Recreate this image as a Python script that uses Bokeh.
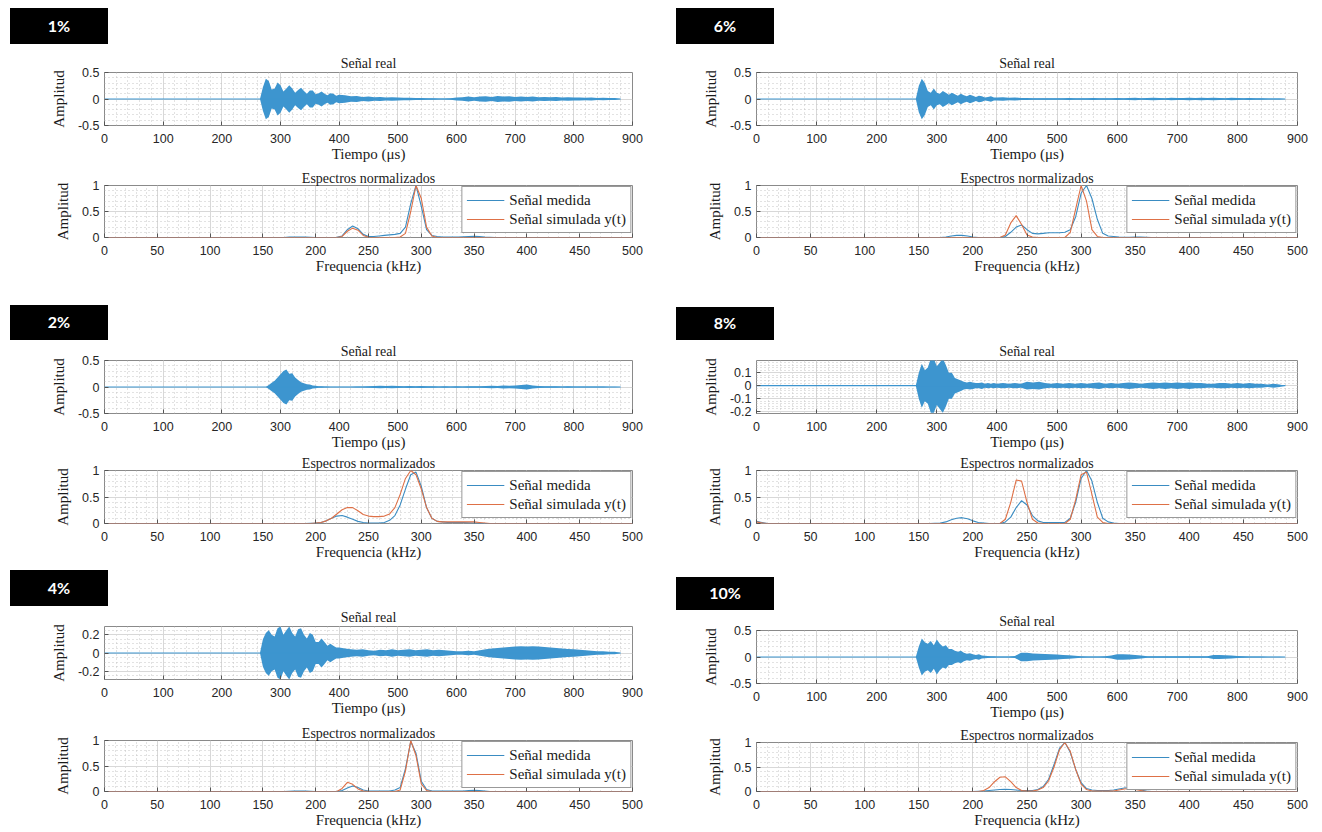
from bokeh.plotting import figure
from bokeh.models import Range1d, FixedTicker, Div
from bokeh.layouts import column, row
from bokeh.embed import file_html
from bokeh.resources import INLINE

# ---------------- data ----------------
PANEL_LABELS = ["1%", "2%", "4%", "6%", "8%", "10%"]

TIME_US = [0, 262,
           265, 270, 275, 280, 285, 290, 295, 300, 305, 310, 315, 320, 325, 330,
           335, 340, 345, 350, 355, 360, 365, 370, 375, 380, 385, 390, 395, 400,
           410, 420, 430, 440, 450, 460, 470, 480, 490, 500, 510, 520, 530, 540,
           550, 560, 570, 580, 590, 600, 610, 620, 630, 640, 650, 660, 670, 680,
           690, 700, 710, 720, 730, 740, 750, 760, 770, 780, 790, 800, 810, 820,
           830, 840, 850, 860, 870, 880]

ENV_1 = [0, 0,
         0, 0.22, 0.38, 0.34, 0.18, 0.2, 0.31, 0.26, 0.14, 0.2, 0.26, 0.2, 0.12, 0.17,
         0.21, 0.15, 0.1, 0.16, 0.16, 0.09, 0.11, 0.14, 0.1, 0.07, 0.11, 0.1, 0.06, 0.08,
         0.07, 0.05, 0.055, 0.04, 0.045, 0.035, 0.04, 0.03, 0.035, 0.03, 0.025, 0.025, 0.02, 0.02,
         0.015, 0.012, 0.01, 0.01, 0.015, 0.03, 0.035, 0.045, 0.035, 0.045, 0.05, 0.04, 0.055, 0.045,
         0.05, 0.04, 0.045, 0.04, 0.045, 0.035, 0.04, 0.035, 0.04, 0.03, 0.035, 0.03, 0.03, 0.025,
         0.03, 0.02, 0.025, 0.02, 0.02, 0]
ENV_2 = [0, 0,
         0, 0, 0, 0.04, 0.08, 0.12, 0.18, 0.24, 0.3, 0.33, 0.25, 0.26, 0.18, 0.13,
         0.09, 0.07, 0.05, 0.045, 0.03, 0.025, 0.015, 0.012, 0.01, 0.008, 0.006, 0.005, 0.005, 0.005,
         0.005, 0.005, 0.008, 0.01, 0.012, 0.02, 0.025, 0.02, 0.025, 0.02, 0.015, 0.02, 0.015, 0.018,
         0.012, 0.015, 0.01, 0.012, 0.01, 0.012, 0.01, 0.015, 0.012, 0.015, 0.02, 0.025, 0.02, 0.03,
         0.025, 0.03, 0.04, 0.045, 0.03, 0.02, 0.015, 0.012, 0.015, 0.01, 0.012, 0.01, 0.01, 0.008,
         0.01, 0.008, 0.008, 0.006, 0.006, 0]
ENV_4 = [0, 0,
         0, 0.15, 0.22, 0.25, 0.2, 0.18, 0.27, 0.29, 0.2, 0.25, 0.29, 0.22, 0.18, 0.26,
         0.27, 0.2, 0.16, 0.22, 0.2, 0.12, 0.12, 0.16, 0.12, 0.08, 0.1, 0.08, 0.06, 0.06,
         0.05, 0.04, 0.035, 0.04, 0.03, 0.025, 0.035, 0.03, 0.04, 0.03, 0.035, 0.04, 0.03, 0.035,
         0.04, 0.03, 0.035, 0.03, 0.025, 0.02, 0.02, 0.025, 0.02, 0.03, 0.04, 0.05, 0.055, 0.06,
         0.065, 0.07, 0.075, 0.07, 0.075, 0.07, 0.065, 0.06, 0.055, 0.05, 0.045, 0.04, 0.035, 0.03,
         0.025, 0.02, 0.02, 0.015, 0.015, 0]
ENV_6 = [0, 0,
         0, 0.25, 0.38, 0.3, 0.15, 0.12, 0.2, 0.12, 0.1, 0.15, 0.12, 0.08, 0.12, 0.09,
         0.06, 0.1, 0.07, 0.05, 0.08, 0.06, 0.04, 0.06, 0.05, 0.03, 0.04, 0.05, 0.03, 0.03,
         0.035, 0.025, 0.03, 0.02, 0.02, 0.015, 0.015, 0.012, 0.015, 0.012, 0.015, 0.02, 0.015, 0.012,
         0.015, 0.02, 0.015, 0.012, 0.015, 0.02, 0.015, 0.02, 0.025, 0.015, 0.02, 0.025, 0.02, 0.015,
         0.025, 0.02, 0.02, 0.025, 0.02, 0.025, 0.02, 0.025, 0.02, 0.015, 0.025, 0.02, 0.015, 0.02,
         0.015, 0.015, 0.01, 0.01, 0.01, 0]
ENV_8 = [0, 0,
         0, 0.1, 0.17, 0.12, 0.14, 0.21, 0.21, 0.15, 0.18, 0.21, 0.16, 0.1, 0.1, 0.06,
         0.05, 0.04, 0.03, 0.025, 0.03, 0.025, 0.02, 0.02, 0.025, 0.015, 0.02, 0.015, 0.02, 0.015,
         0.02, 0.015, 0.02, 0.015, 0.03, 0.025, 0.03, 0.02, 0.015, 0.02, 0.015, 0.02, 0.015, 0.02,
         0.015, 0.02, 0.025, 0.015, 0.02, 0.015, 0.02, 0.025, 0.02, 0.015, 0.02, 0.025, 0.02, 0.025,
         0.02, 0.025, 0.02, 0.025, 0.02, 0.02, 0.015, 0.015, 0.02, 0.02, 0.015, 0.02, 0.015, 0.02,
         0.015, 0.015, 0.01, 0.015, 0.01, 0]
ENV_10 = [0, 0,
          0, 0.2, 0.35, 0.28, 0.25, 0.3, 0.22, 0.33, 0.25, 0.2, 0.22, 0.15, 0.15, 0.12,
          0.1, 0.12, 0.08, 0.06, 0.07, 0.05, 0.04, 0.05, 0.03, 0.025, 0.02, 0.015, 0.012, 0.01,
          0.01, 0.01, 0.02, 0.08, 0.08, 0.065, 0.06, 0.055, 0.05, 0.045, 0.04, 0.035, 0.025, 0.012,
          0.01, 0.01, 0.01, 0.012, 0.03, 0.05, 0.05, 0.045, 0.04, 0.03, 0.015, 0.015, 0.012, 0.015,
          0.015, 0.012, 0.012, 0.015, 0.015, 0.012, 0.015, 0.04, 0.04, 0.035, 0.03, 0.02, 0.015, 0.01,
          0.008, 0.008, 0.006, 0.006, 0.005, 0]

FREQ_KHZ = [0, 5, 10, 150, 160,
            170, 175, 180, 185, 190,
            195, 200, 205, 210, 215,
            220, 225, 230, 235, 240,
            245, 250, 255, 260, 265,
            270, 275, 280, 285, 290,
            295, 300, 305, 310, 315,
            320, 325, 330, 335, 340,
            345, 350, 355, 360, 365,
            370, 380, 400, 450, 500]

MEAS_1 = [0, 0, 0, 0, 0,
          0, 0.01, 0.01, 0.01, 0.01,
          0.005, 0, 0, 0, 0,
          0.005, 0.03, 0.15, 0.22, 0.17,
          0.06, 0.02, 0.02, 0.03, 0.04,
          0.05, 0.06, 0.08, 0.2, 0.65,
          1.0, 0.6, 0.15, 0.04, 0.02,
          0.01, 0.01, 0.01, 0.01, 0.015,
          0.02, 0.025, 0.02, 0.01, 0.005,
          0, 0, 0, 0, 0]
SIM_1 = [0, 0, 0, 0, 0,
         0, 0, 0, 0, 0,
         0, 0, 0, 0, 0,
         0, 0.02, 0.12, 0.18, 0.14,
         0.04, 0.005, 0, 0, 0,
         0, 0, 0.01, 0.08, 0.5,
         1.0, 0.75, 0.2, 0.03, 0,
         0, 0, 0, 0, 0,
         0, 0, 0, 0, 0,
         0, 0, 0, 0, 0]
MEAS_2 = [0, 0, 0, 0, 0,
          0, 0, 0, 0, 0,
          0.005, 0.01, 0.02, 0.05, 0.1,
          0.14, 0.15, 0.12, 0.08, 0.04,
          0.02, 0.01, 0.01, 0.01, 0.02,
          0.06, 0.15, 0.35, 0.65, 0.92,
          0.97, 0.7, 0.3, 0.1, 0.04,
          0.03, 0.02, 0.02, 0.02, 0.02,
          0.015, 0.01, 0.005, 0, 0,
          0, 0, 0, 0, 0]
SIM_2 = [0, 0, 0, 0, 0,
         0, 0, 0, 0, 0,
         0, 0.01, 0.02, 0.05, 0.1,
         0.18, 0.26, 0.3, 0.3, 0.24,
         0.17, 0.14, 0.13, 0.13, 0.14,
         0.18, 0.3, 0.55, 0.85, 1.0,
         0.92, 0.65, 0.3, 0.1, 0.04,
         0.03, 0.03, 0.03, 0.03, 0.03,
         0.03, 0.03, 0.02, 0.01, 0,
         0, 0, 0, 0, 0]
MEAS_4 = [0, 0, 0, 0, 0,
          0, 0.005, 0.01, 0.01, 0.01,
          0.005, 0, 0, 0, 0,
          0, 0.02, 0.07, 0.11, 0.08,
          0.03, 0.01, 0.01, 0.01, 0.01,
          0.01, 0.03, 0.08, 0.45, 0.98,
          0.75, 0.2, 0.04, 0.01, 0.01,
          0.01, 0.01, 0.01, 0.01, 0.01,
          0.02, 0.025, 0.02, 0.01, 0,
          0, 0, 0, 0, 0]
SIM_4 = [0, 0, 0, 0, 0,
         0, 0, 0, 0, 0,
         0, 0, 0, 0, 0,
         0, 0.06, 0.18, 0.14, 0.05,
         0.01, 0, 0, 0, 0,
         0, 0, 0.03, 0.4, 1.0,
         0.7, 0.15, 0.02, 0, 0,
         0, 0, 0, 0, 0,
         0, 0, 0, 0, 0,
         0, 0, 0, 0, 0]
MEAS_6 = [0, 0, 0, 0, 0,
          0, 0.01, 0.03, 0.04, 0.04,
          0.03, 0.01, 0, 0, 0,
          0, 0, 0.02, 0.1, 0.2,
          0.24, 0.15, 0.08, 0.07, 0.08,
          0.09, 0.09, 0.09, 0.1, 0.15,
          0.4, 0.85, 1.0, 0.75, 0.35,
          0.08, 0.03, 0.02, 0.01, 0.005,
          0.005, 0.01, 0.01, 0.005, 0,
          0, 0, 0, 0, 0]
SIM_6 = [0, 0, 0, 0, 0,
         0, 0, 0, 0, 0,
         0, 0, 0, 0, 0,
         0, 0, 0.05, 0.28, 0.42,
         0.25, 0.05, 0.01, 0, 0,
         0, 0, 0, 0, 0.1,
         0.55, 1.0, 0.7, 0.15, 0.02,
         0, 0, 0, 0, 0,
         0, 0, 0, 0, 0,
         0, 0, 0, 0, 0]
MEAS_8 = [0.04, 0.02, 0, 0, 0,
          0.01, 0.03, 0.07, 0.1, 0.11,
          0.09, 0.05, 0.02, 0.01, 0,
          0, 0, 0.03, 0.12, 0.3,
          0.43, 0.35, 0.15, 0.05, 0.02,
          0.02, 0.02, 0.02, 0.02, 0.1,
          0.4, 0.85, 1.0, 0.8, 0.4,
          0.1, 0.03, 0.01, 0, 0,
          0, 0, 0, 0, 0,
          0, 0, 0, 0, 0]
SIM_8 = [0.03, 0.01, 0, 0, 0,
         0, 0, 0, 0, 0,
         0, 0, 0, 0, 0,
         0, 0, 0.08, 0.4, 0.82,
         0.8, 0.4, 0.08, 0.01, 0,
         0, 0, 0, 0, 0.08,
         0.45, 0.92, 0.97, 0.55, 0.12,
         0.02, 0, 0, 0, 0,
         0, 0, 0, 0, 0,
         0, 0, 0, 0, 0]
MEAS_10 = [0, 0, 0, 0, 0,
           0, 0, 0, 0, 0,
           0, 0, 0.005, 0.01, 0.02,
           0.03, 0.04, 0.045, 0.04, 0.03,
           0.02, 0.02, 0.02, 0.04, 0.1,
           0.25, 0.55, 0.88, 1.0, 0.8,
           0.45, 0.18, 0.06, 0.03, 0.02,
           0.02, 0.02, 0.03, 0.05, 0.07,
           0.08, 0.06, 0.03, 0.01, 0,
           0, 0, 0, 0, 0]
SIM_10 = [0, 0, 0, 0, 0,
          0, 0, 0, 0, 0,
          0, 0, 0, 0.02, 0.08,
          0.2, 0.29, 0.3, 0.2, 0.08,
          0.02, 0.01, 0.01, 0.03, 0.08,
          0.22, 0.5, 0.85, 1.0, 0.82,
          0.45, 0.15, 0.04, 0.01, 0.01,
          0.01, 0.01, 0.01, 0.03, 0.05,
          0.06, 0.04, 0.02, 0, 0,
          0, 0, 0, 0, 0]

# axis ticks / limits
TIME_TICKS = [0, 100, 200, 300, 400, 500, 600, 700, 800, 900]
FREQ_TICKS = [0, 50, 100, 150, 200, 250, 300, 350, 400, 450, 500]
AMP_TICKS_05 = [-0.5, 0, 0.5]
AMP_LABELS_05 = ["-0.5", "0", "0.5"]
AMP_TICKS_02 = [-0.2, 0, 0.2]
AMP_LABELS_02 = ["-0.2", "0", "0.2"]
AMP_TICKS_01 = [-0.2, -0.1, 0, 0.1]
AMP_LABELS_01 = ["-0.2", "-0.1", "0", "0.1"]
SPEC_TICKS = [0, 0.5, 1]
SPEC_LABELS = ["0", "0.5", "1"]
YLIM_05 = (-0.5, 0.5)
YLIM_02 = (-0.29, 0.29)
YLIM_01 = (-0.215, 0.195)

# ---------------- style ----------------
SERIF = "Liberation Serif"
SANS = "Liberation Sans"
WAVE = "#3d95cf"
MEAS_C = "#3a8cc2"
SIM_C = "#de7046"
FRAME_C = "#8a8a8a"


def style(p, xticks, xminor_step, yticks, ylabels, yminor_step, xlabel):
    xminor = [xticks[0] + i * xminor_step for i in range(int(round((xticks[-1] - xticks[0]) / xminor_step)) + 1)]
    ylo, yhi = p.y_range.start, p.y_range.end
    n0 = int(ylo / yminor_step) - 1
    n1 = int(yhi / yminor_step) + 1
    yminor = [round(k * yminor_step, 4) for k in range(n0, n1 + 1)]
    p.xaxis.ticker = FixedTicker(ticks=xticks, minor_ticks=xminor)
    p.yaxis.ticker = FixedTicker(ticks=yticks, minor_ticks=yminor)
    p.yaxis.major_label_overrides = {t: l for t, l in zip(yticks, ylabels)}
    for ax in (p.xaxis[0], p.yaxis[0]):
        ax.axis_line_color = None
        ax.major_tick_in = 4
        ax.major_tick_out = 0
        ax.major_tick_line_color = "#555555"
        ax.minor_tick_in = 0
        ax.minor_tick_out = 0
        ax.major_label_text_font = SANS
        ax.major_label_text_font_size = "12.5px"
        ax.major_label_text_color = "#262626"
        ax.axis_label_text_font = SERIF
        ax.axis_label_text_font_size = "15px"
        ax.axis_label_text_font_style = "normal"
        ax.axis_label_text_color = "#1a1a1a"
    p.xaxis.axis_label = xlabel
    p.yaxis.axis_label = "Amplitud"
    p.xaxis.major_label_standoff = 8
    p.xaxis.axis_label_standoff = 0
    p.yaxis.major_label_standoff = 5
    p.yaxis.axis_label_standoff = 8
    for g in (p.xgrid[0], p.ygrid[0]):
        g.grid_line_color = "#d8d8d8"
        g.grid_line_width = 1
        g.minor_grid_line_color = "#c4c4c4"
        g.minor_grid_line_dash = "1 3"
        g.minor_grid_line_width = 1
    p.outline_line_color = FRAME_C
    p.outline_line_width = 1
    p.title.text_font = SERIF
    p.title.text_font_size = "14px"
    p.title.text_font_style = "normal"
    p.title.text_color = "#1a1a1a"
    p.title.align = "center"
    p.background_fill_color = "white"


def time_fig(env, ylim, yt, yl, yminor, W, H, ml, mr, mt, mb):
    p = figure(width=W, height=H, x_range=Range1d(0, 900), y_range=Range1d(*ylim),
               output_backend="svg", toolbar_location=None, title="Señal real",
               min_border_left=ml, min_border_right=mr, min_border_top=mt, min_border_bottom=mb)
    lower = [-v for v in env]
    p.varea(x=TIME_US, y1=lower, y2=env, fill_color=WAVE, fill_alpha=1)
    p.line(TIME_US, [0 * v for v in env], line_color=WAVE, line_width=1.2)
    style(p, TIME_TICKS, 20, yt, yl, yminor, "Tiempo (μs)")
    p.title.standoff = 3
    return p


def spec_fig(meas, sim, W, H, ml, mr, mt, mb):
    p = figure(width=W, height=H, x_range=Range1d(0, 500), y_range=Range1d(0, 1),
               output_backend="svg", toolbar_location=None, title="Espectros normalizados",
               min_border_left=ml, min_border_right=mr, min_border_top=mt, min_border_bottom=mb)
    p.line(FREQ_KHZ, meas, line_color=MEAS_C, line_width=1.1, legend_label="Señal medida")
    p.line(FREQ_KHZ, sim, line_color=SIM_C, line_width=1.1, legend_label="Señal simulada y(t)")
    style(p, FREQ_TICKS, 10, SPEC_TICKS, SPEC_LABELS, 0.1, "Frequencia (kHz)")
    p.title.standoff = 0
    lg = p.legend[0]
    lg.location = "top_right"
    lg.margin = 1
    lg.padding = 4
    lg.spacing = 1
    lg.border_line_color = "#333333"
    lg.border_line_width = 1
    lg.background_fill_alpha = 1
    lg.label_text_font = SERIF
    lg.label_text_font_size = "15px"
    lg.label_text_color = "#1a1a1a"
    lg.glyph_width = 38
    lg.glyph_height = 18
    lg.label_height = 18
    lg.label_standoff = 5
    return p


def label_div(txt, W, H, left, top, bh):
    html = ('<div style="position:relative;left:%dpx;top:%dpx;width:98px;height:%dpx;'
            'background:#000000;color:#ffffff;font-family:Lato, sans-serif;font-weight:bold;'
            'font-size:16px;display:flex;align-items:center;justify-content:center;">%s</div>'
            % (left, top, bh, txt))
    return Div(text=html, width=W, height=H, margin=0)


PANELS_LEFT = [
    ("1%", ENV_1, YLIM_05, AMP_TICKS_05, AMP_LABELS_05, 0.1, MEAS_1, SIM_1),
    ("2%", ENV_2, YLIM_05, AMP_TICKS_05, AMP_LABELS_05, 0.1, MEAS_2, SIM_2),
    ("4%", ENV_4, YLIM_02, AMP_TICKS_02, AMP_LABELS_02, 0.05, MEAS_4, SIM_4),
]
PANELS_RIGHT = [
    ("6%", ENV_6, YLIM_05, AMP_TICKS_05, AMP_LABELS_05, 0.1, MEAS_6, SIM_6),
    ("8%", ENV_8, YLIM_01, AMP_TICKS_01, AMP_LABELS_01, 0.02, MEAS_8, SIM_8),
    ("10%", ENV_10, YLIM_05, AMP_TICKS_05, AMP_LABELS_05, 0.1, MEAS_10, SIM_10),
]

# per row: (label H, box top, box h), (time H, mt, mb), (spec H, mt, mb)
LAYOUT_LEFT = [((52, 8, 36), (112, 20, 38), (112, 21, 38)),
               ((64, 29, 35), (112, 20, 38), (110, 18, 38)),
               ((44, 8, 36), (112, 20, 36), (112, 22, 36))]
LAYOUT_RIGHT = [((52, 8, 36), (112, 20, 38), (112, 21, 38)),
                ((64, 31, 33), (112, 20, 38), (110, 18, 38)),
                ((48, 15, 33), (112, 20, 38), (108, 20, 34))]


def build(panels, layout, W, ml, mr, box_left):
    items = []
    for pan, lay in zip(panels, layout):
        name, env, ylim, yt, yl, ym, meas, sim = pan
        (lh, btop, bh), (th, tmt, tmb), (sh, smt, smb) = lay
        items.append(label_div(name, W, lh, box_left, btop, bh))
        items.append(time_fig(env, ylim, yt, yl, ym, W, th, ml, mr, tmt, tmb))
        items.append(spec_fig(meas, sim, W, sh, ml, mr, smt, smb))
    return column(*items, spacing=0)


left = build(PANELS_LEFT, LAYOUT_LEFT, 656, 104, 24, 10)
right = build(PANELS_RIGHT, LAYOUT_RIGHT, 658, 100, 17, 20)
page = row(left, right, spacing=0)

open("out.html", "w").write(file_html(page, INLINE))
